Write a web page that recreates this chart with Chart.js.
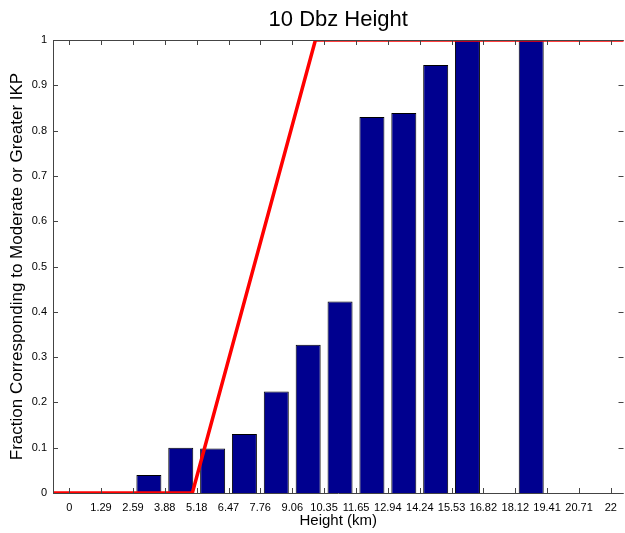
<!DOCTYPE html>
<html>
<head>
<meta charset="utf-8">
<script src="https://cdn.jsdelivr.net/npm/chart.js@4.4.1/dist/chart.umd.min.js"></script>
<style>
	body { margin: 0; background: #fff; }
	#wrap { width: 625px; height: 533px; position: relative; }
</style>
</head>
<body>
<div id="wrap"><canvas id="heightChart"></canvas></div>
<script>
// Bin edges along the x axis (also the tick labels)
var xTickLabels = ['0', '1.29', '2.59', '3.88', '5.18', '6.47', '7.76', '9.06', '10.35', '11.65',
	'12.94', '14.24', '15.53', '16.82', '18.12', '19.41', '20.71', '22'];

// Fraction for each bin (one bar per bin)
var barValues = [0, 0, 0.04, 0.10, 0.098, 0.13, 0.224, 0.327, 0.423, 0.83,
	0.839, 0.945, 1.0, 0, 1.0, 0, 0];

// Red threshold line
var lineX = [-1, 5, 10, 23];
var lineY = [0, 0, 1, 1];

// Y axis ticks
var yTickLabels = ['0', '0.1', '0.2', '0.3', '0.4', '0.5', '0.6', '0.7', '0.8', '0.9', '1'];

var xTickVals = xTickLabels.map(function(s) { return parseFloat(s); });
var yTickVals = yTickLabels.map(function(s) { return parseFloat(s); });

// Bars sit in the middle of each bin
var barData = [];
for (var i = 0; i < barValues.length; i++) {
	barData.push({ x: (xTickVals[i] + xTickVals[i + 1]) / 2, y: barValues[i] });
}

var lineData = [];
for (var j = 0; j < lineX.length; j++) {
	lineData.push({ x: lineX[j], y: lineY[j] });
}

var FONT = "'Liberation Sans', Arial, Helvetica, sans-serif";

// Box round the plot with inward tick marks on all four sides
var boxPlugin = {
	id: 'boxTicks',
	afterDraw: function(chart) {
		var ctx = chart.ctx;
		var a = chart.chartArea;
		var xs = chart.scales.x;
		var ys = chart.scales.y;
		var len = 5;
		ctx.save();
		ctx.strokeStyle = '#444';
		ctx.lineWidth = 1;
		ctx.beginPath();
		ctx.moveTo(a.left + 0.5, a.top);
		ctx.lineTo(a.left + 0.5, a.bottom + 0.5);
		ctx.lineTo(a.right, a.bottom + 0.5);
		ctx.moveTo(a.left, a.top + 0.5);
		ctx.lineTo(a.right, a.top + 0.5);
		for (var i = 0; i < xTickVals.length; i++) {
			var px = Math.round(xs.getPixelForValue(xTickVals[i])) + 0.5;
			ctx.moveTo(px, a.bottom);
			ctx.lineTo(px, a.bottom - len);
			ctx.moveTo(px, a.top);
			ctx.lineTo(px, a.top + len);
		}
		for (var k = 0; k < yTickVals.length; k++) {
			var py = Math.round(ys.getPixelForValue(yTickVals[k])) + 0.5;
			ctx.moveTo(a.left, py);
			ctx.lineTo(a.left + len, py);
			ctx.moveTo(a.right, py);
			ctx.lineTo(a.right - len, py);
		}
		ctx.stroke();
		ctx.restore();
	}
};

var ctx = document.getElementById('heightChart').getContext('2d');
var chart = new Chart(ctx, {
	type: 'bar',
	data: {
		datasets: [{
			type: 'line',
			data: lineData,
			borderColor: '#ff0000',
			borderWidth: 3.5,
			pointRadius: 0,
			fill: false,
			tension: 0,
			clip: 0,
			order: 0
		}, {
			type: 'bar',
			data: barData,
			backgroundColor: '#00008f',
			borderColor: '#000000',
			borderWidth: 1,
			barThickness: 25,
			inflateAmount: 0,
			order: 1
		}]
	},
	plugins: [boxPlugin],
	options: {
		responsive: true,
		maintainAspectRatio: false,
		animation: false,
		devicePixelRatio: 1,
		layout: { padding: 0 },
		plugins: {
			legend: { display: false },
			tooltip: { enabled: false },
			title: {
				display: true,
				fullSize: false,
				text: '10 Dbz Height',
				color: '#000',
				font: { family: FONT, size: 22, weight: 'normal' },
				padding: { top: 7, bottom: 6.6 }
			}
		},
		scales: {
			x: {
				type: 'linear',
				min: -0.66,
				max: 22.514,
				offset: false,
				grid: { display: false, drawTicks: false },
				border: { display: false },
				afterBuildTicks: function(scale) {
					scale.ticks = xTickVals.map(function(v) { return { value: v }; });
				},
				afterFit: function(scale) { scale.height = 40; },
				ticks: {
					autoSkip: false,
					maxRotation: 0,
					padding: 8,
					color: '#000',
					font: { family: FONT, size: 11 },
					callback: function(value, index) { return xTickLabels[index]; }
				},
				title: {
					display: true,
					text: 'Height (km)',
					color: '#000',
					font: { family: FONT, size: 15 },
					padding: { top: 0, bottom: 3 }
				}
			},
			y: {
				min: 0,
				max: 1,
				grid: { display: false, drawTicks: false },
				border: { display: false },
				afterBuildTicks: function(scale) {
					scale.ticks = yTickVals.map(function(v) { return { value: v }; });
				},
				afterFit: function(scale) { scale.width = 53; },
				ticks: {
					padding: 6,
					color: '#000',
					font: { family: FONT, size: 11 },
					callback: function(value, index) { return yTickLabels[index]; }
				},
				title: {
					display: true,
					text: 'Fraction Corresponding to Moderate or Greater IKP',
					color: '#000',
					font: { family: FONT, size: 17 },
					padding: { top: 6.8, bottom: 0 }
				}
			}
		}
	}
});
</script>
</body>
</html>
